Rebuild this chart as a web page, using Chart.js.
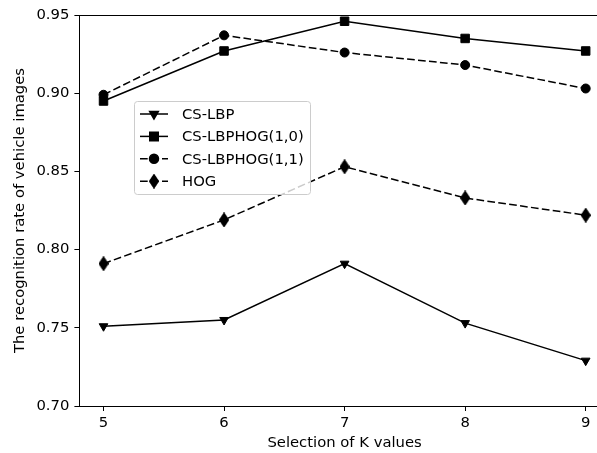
<!DOCTYPE html>
<html>
<head>
<meta charset="utf-8">
<script src="https://cdn.jsdelivr.net/npm/chart.js@4.4.1/dist/chart.umd.min.js"></script>
<style>
    html, body { margin: 0; padding: 0; overflow: hidden; background: #fff; }
    #wrap { width: 620px; height: 453px; }
</style>
</head>
<body>
<div id="wrap"><canvas id="myChart"></canvas></div>
<script>
const kValues = [5, 6, 7, 8, 9];
const csLbp = [0.751, 0.755, 0.791, 0.753, 0.729];
const csLbpHog10 = [0.895, 0.927, 0.946, 0.935, 0.927];
const csLbpHog11 = [0.899, 0.937, 0.926, 0.918, 0.903];
const hog = [0.791, 0.819, 0.853, 0.833, 0.822];
const seriesNames = ["CS-LBP", "CS-LBPHOG(1,0)", "CS-LBPHOG(1,1)", "HOG"];
const yTicks = [0.70, 0.75, 0.80, 0.85, 0.90, 0.95];

const FONT = "'DejaVu Sans', sans-serif";
const FSIZE = 14.8;

// matplotlib style thin diamond marker
function thinDiamond(w, h) {
    const c = document.createElement("canvas");
    c.width = w;
    c.height = h;
    const g = c.getContext("2d");
    g.fillStyle = "#000";
    g.beginPath();
    g.moveTo(w / 2, 0);
    g.lineTo(w, h / 2);
    g.lineTo(w / 2, h);
    g.lineTo(0, h / 2);
    g.closePath();
    g.fill();
    g.fill();
    return c;
}

function pts(values) {
    return kValues.map((k, i) => ({ x: k, y: values[i] }));
}

function series(label, values, style, radius, dashed, rotation) {
    return {
        label: label,
        data: pts(values),
        borderColor: "#000",
        backgroundColor: "#000",
        borderWidth: 1.5,
        borderDash: dashed ? [7.7, 3.3] : [],
        pointStyle: style,
        pointRotation: rotation || 0,
        pointRadius: radius,
        pointBorderWidth: 1,
        pointBackgroundColor: "#000",
        pointBorderColor: "#000",
        tension: 0
    };
}

const frame = {
    id: "frame",
    afterDraw(chart) {
        const a = chart.chartArea;
        const ctx = chart.ctx;
        ctx.save();
        ctx.strokeStyle = "#000";
        ctx.lineWidth = 1;
        ctx.strokeRect(Math.round(a.left) + 0.5, Math.round(a.top) + 0.5,
            Math.round(a.right - a.left), Math.round(a.bottom - a.top));
        ctx.restore();
    }
};

const insideLegend = {
    id: "insideLegend",
    afterDraw(chart) {
        const ctx = chart.ctx;
        ctx.save();
        ctx.fillStyle = "rgba(255,255,255,0.8)";
        ctx.strokeStyle = "#cccccc";
        ctx.lineWidth = 1;
        ctx.beginPath();
        ctx.roundRect(134.5, 101.5, 176, 93, 3);
        ctx.fill();
        ctx.stroke();

        chart.data.datasets.forEach((ds, i) => {
            const cy = 114 + i * 22.4;
            ctx.strokeStyle = "#000";
            ctx.lineWidth = ds.borderWidth;
            ctx.setLineDash(ds.borderDash);
            ctx.beginPath();
            ctx.moveTo(140, cy);
            ctx.lineTo(168, cy);
            ctx.stroke();
            ctx.setLineDash([]);
            ctx.fillStyle = "#000";
            Chart.helpers.drawPoint(ctx, {
                pointStyle: ds.pointStyle,
                rotation: ds.pointRotation,
                radius: ds.pointRadius,
                borderWidth: 1
            }, 154, cy);
            ctx.fillStyle = "#000";
            ctx.font = FSIZE + "px " + FONT;
            ctx.textBaseline = "middle";
            ctx.textAlign = "left";
            ctx.fillText(ds.label, 182, cy + 1);
        });
        ctx.restore();
    }
};

const ctx = document.getElementById("myChart");

new Chart(ctx, {
    type: "line",
    data: {
        datasets: [
            series(seriesNames[0], csLbp, "triangle", 5, false, 180),
            series(seriesNames[1], csLbpHog10, "rect", 6, false),
            series(seriesNames[2], csLbpHog11, "circle", 4.5, true),
            series(seriesNames[3], hog, thinDiamond(10, 15), 6, true)
        ]
    },
    options: {
        responsive: true,
        maintainAspectRatio: false,
        animation: false,
        devicePixelRatio: 1,
        layout: {
            padding: { left: 0, right: 10.2, top: 15, bottom: 0 }
        },
        plugins: {
            legend: { display: false },
            tooltip: { enabled: false }
        },
        scales: {
            x: {
                type: "linear",
                min: 4.8,
                max: 9.2,
                afterBuildTicks: s => { s.ticks = kValues.map(v => ({ value: v })); },
                afterFit: s => { s.height = 47; },
                border: { display: false },
                grid: {
                    drawOnChartArea: false,
                    drawTicks: true,
                    tickLength: 5,
                    tickColor: "#000",
                    lineWidth: 1
                },
                ticks: {
                    color: "#000",
                    padding: 3,
                    maxRotation: 0,
                    font: { family: FONT, size: FSIZE },
                    callback: v => String(v)
                },
                title: {
                    display: true,
                    text: "Selection of K values",
                    color: "#000",
                    padding: { top: 0, bottom: 1 },
                    font: { family: FONT, size: FSIZE }
                }
            },
            y: {
                min: 0.70,
                max: 0.95,
                afterBuildTicks: s => { s.ticks = yTicks.map(v => ({ value: v })); },
                afterFit: s => { s.width = 79.4; },
                border: { display: false },
                grid: {
                    drawOnChartArea: false,
                    drawTicks: true,
                    tickLength: 5,
                    tickColor: "#000",
                    lineWidth: 1
                },
                ticks: {
                    color: "#000",
                    padding: 5,
                    font: { family: FONT, size: FSIZE },
                    callback: v => Number(v).toFixed(2)
                },
                title: {
                    display: true,
                    text: "The recognition rate of vehicle images",
                    color: "#000",
                    padding: { top: 11, bottom: 0 },
                    font: { family: FONT, size: FSIZE }
                }
            }
        }
    },
    plugins: [frame, insideLegend]
});
</script>
</body>
</html>
